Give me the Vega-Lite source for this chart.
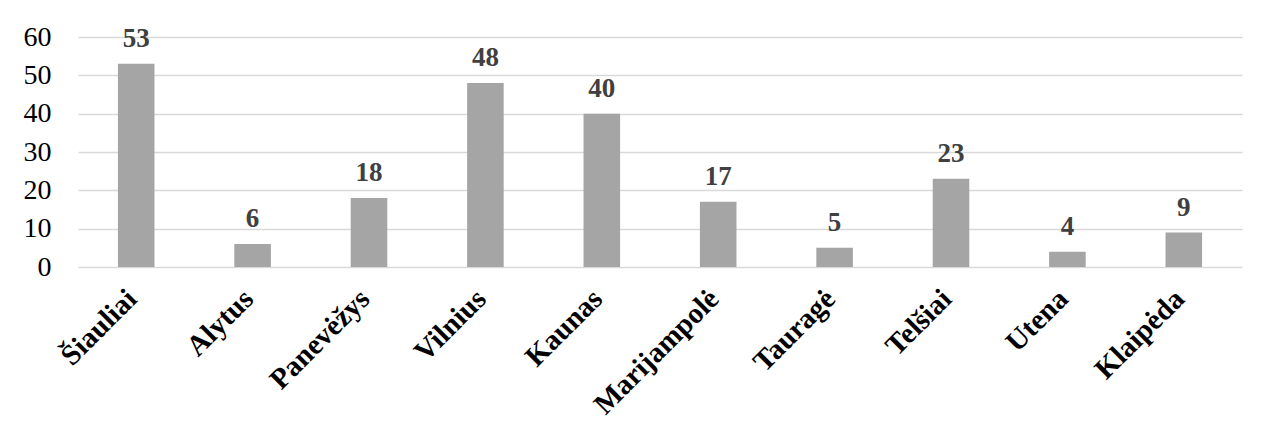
{
  "$schema": "https://vega.github.io/schema/vega-lite/v6.json",
  "autosize": {"type": "none"},
  "width": 1164,
  "height": 230,
  "padding": {"left": 78, "top": 37, "right": 36, "bottom": 167},
  "background": "white",
  "data": {
    "values": [
      {"city": "Šiauliai", "value": 53},
      {"city": "Alytus", "value": 6},
      {"city": "Panevėžys", "value": 18},
      {"city": "Vilnius", "value": 48},
      {"city": "Kaunas", "value": 40},
      {"city": "Marijampolė", "value": 17},
      {"city": "Tauragė", "value": 5},
      {"city": "Telšiai", "value": 23},
      {"city": "Utena", "value": 4},
      {"city": "Klaipėda", "value": 9}
    ]
  },
  "encoding": {
    "x": {
      "field": "city",
      "type": "nominal",
      "sort": null,
      "scale": {"paddingInner": 0.686, "paddingOuter": 0.343},
      "axis": {
        "title": null,
        "domain": false,
        "ticks": false,
        "grid": false,
        "labelAngle": -45,
        "labelAlign": "right",
        "labelBaseline": "top",
        "labelPadding": 17,
        "labelOffset": -14,
        "labelFont": "Liberation Serif",
        "labelFontWeight": "bold",
        "labelFontSize": 29,
        "labelColor": "#000000"
      }
    },
    "y": {
      "field": "value",
      "type": "quantitative",
      "scale": {"domain": [0, 60]},
      "axis": {
        "title": null,
        "domain": false,
        "ticks": false,
        "values": [0, 10, 20, 30, 40, 50, 60],
        "gridColor": "#d9d9d9",
        "gridWidth": 1.5,
        "labelPadding": 27,
        "labelFont": "Liberation Serif",
        "labelFontSize": 28,
        "labelColor": "#000000"
      }
    }
  },
  "layer": [
    {"mark": {"type": "bar", "color": "#a5a5a5"}},
    {
      "mark": {
        "type": "text",
        "baseline": "alphabetic",
        "dy": -17,
        "font": "Liberation Serif",
        "fontWeight": "bold",
        "fontSize": 27,
        "color": "#404040"
      },
      "encoding": {"text": {"field": "value", "type": "quantitative"}}
    }
  ],
  "config": {"view": {"stroke": null}}
}
